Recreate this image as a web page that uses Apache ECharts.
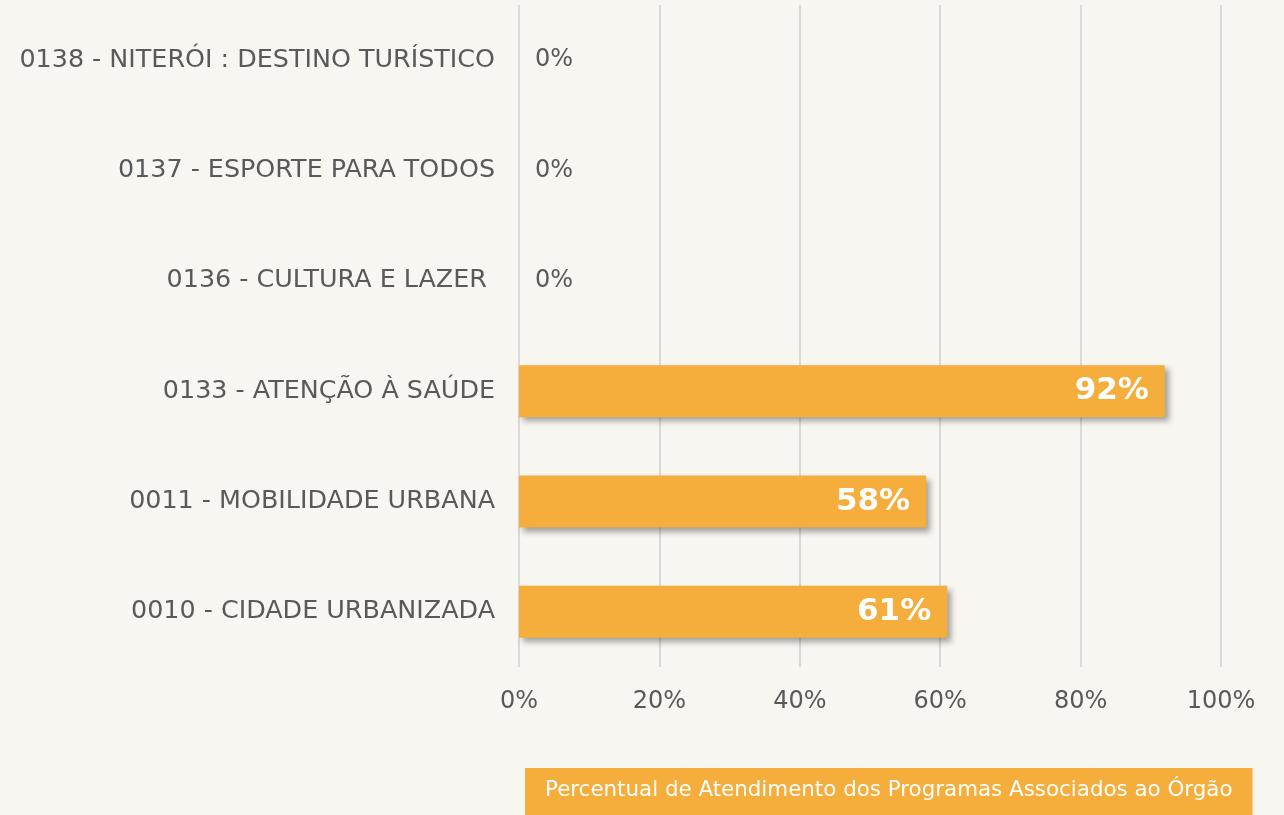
<!doctype html>
<html>
<head>
    <meta charset="utf-8">
    <title>Percentual de Atendimento</title>
    <script src="https://cdn.jsdelivr.net/npm/echarts@6/dist/echarts.min.js"></script>
    <style>
        html, body { margin: 0; padding: 0; background: #f7f6f0; }
        #main { width: 1284px; height: 815px; }
    </style>
</head>
<body>
    <div id="main"></div>
</body>
<script type="text/javascript">
    // categorias (de baixo para cima, como no eixo)
    var programas = [
        '0010 - CIDADE URBANIZADA',
        '0011 - MOBILIDADE URBANA',
        '0133 - ATENÇÃO À SAÚDE',
        '0136 - CULTURA E LAZER ',
        '0137 - ESPORTE PARA TODOS',
        '0138 - NITERÓI : DESTINO TURÍSTICO'
    ];
    var percentuais = [61, 58, 92, 0, 0, 0];
    var ticks = ['0%', '20%', '40%', '60%', '80%', '100%'];
    var titulo = 'Percentual de Atendimento dos Programas Associados ao Órgão';

    var fonte = 'DejaVu Sans';
    var laranja = '#f5ad3c';
    var cinza = '#595959';

    var dados = percentuais.map(function (v) {
        if (v > 0) {
            return {
                value: v,
                label: { position: 'insideRight', color: '#fff', fontWeight: 'bold', fontSize: 31, distance: 16 }
            };
        }
        return {
            value: v,
            label: { position: 'right', color: cinza, fontWeight: 'normal', fontSize: 24, distance: 16 }
        };
    });

    var myChart = echarts.init(document.getElementById('main'));
    var option = {
        backgroundColor: '#f7f6f0',
        textStyle: { fontFamily: fonte },
        title: {
            text: titulo,
            left: 525,
            top: 768,
            backgroundColor: laranja,
            padding: [12, 20, 14, 20],
            textStyle: { color: '#fff', fontSize: 21.4, fontWeight: 'normal', fontFamily: fonte }
        },
        grid: { left: 519, right: 63, top: 5, bottom: 148, containLabel: false },
        xAxis: {
            type: 'value',
            min: 0,
            max: 100,
            interval: 20,
            axisLine: { show: false },
            axisTick: { show: false },
            splitLine: { lineStyle: { color: '#d9d9d9', width: 2 } },
            axisLabel: {
                color: cinza,
                fontSize: 24,
                margin: 23,
                formatter: function (v) { return ticks[v / 20]; }
            }
        },
        yAxis: {
            type: 'category',
            data: programas,
            axisLine: { show: false },
            axisTick: { show: false },
            axisLabel: { color: cinza, fontSize: 25.4, margin: 24 }
        },
        series: [{
            name: titulo,
            type: 'bar',
            data: dados,
            barWidth: 52,
            itemStyle: {
                color: laranja,
                shadowColor: 'rgba(0,0,0,0.35)',
                shadowBlur: 6,
                shadowOffsetX: 4,
                shadowOffsetY: 4
            },
            label: {
                show: true,
                fontFamily: fonte,
                formatter: '{c}%'
            }
        }]
    };
    myChart.setOption(option);
</script>
</html>
